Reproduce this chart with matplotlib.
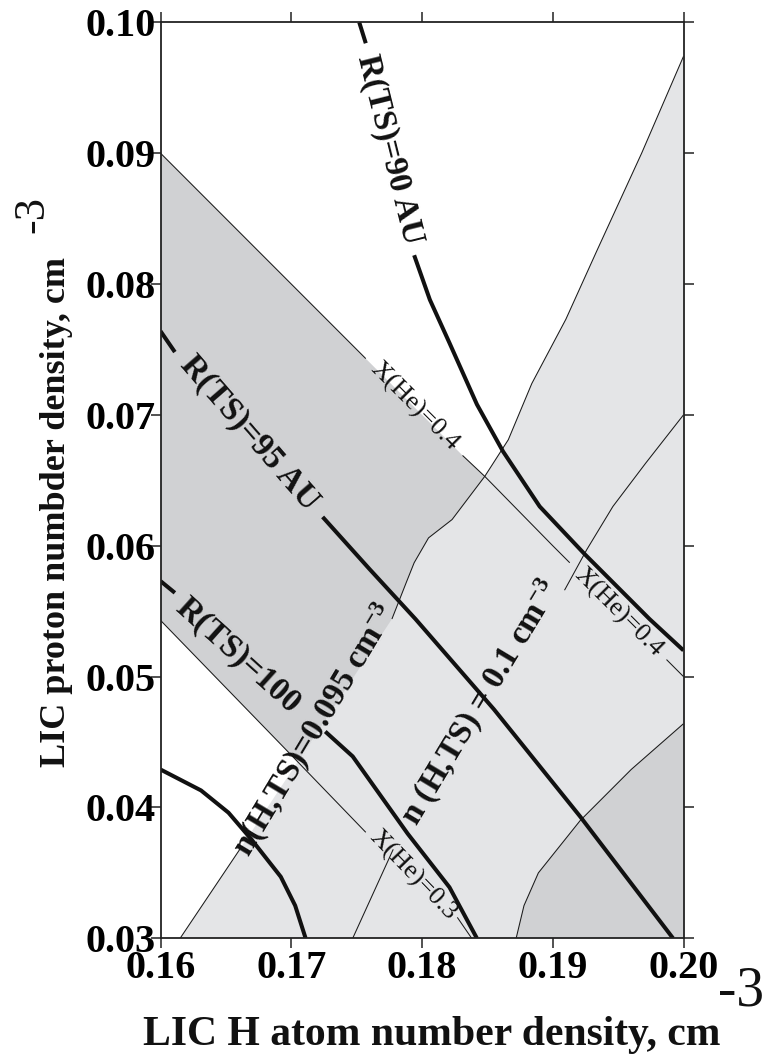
import numpy as np
import matplotlib
matplotlib.use("Agg")
import matplotlib.pyplot as plt
from matplotlib.patches import Polygon

plt.rcParams['font.family'] = ['Liberation Serif', 'DejaVu Serif']
plt.rcParams['mathtext.fontset'] = 'custom'
plt.rcParams['mathtext.rm'] = 'Liberation Serif:bold'
plt.rcParams['mathtext.bf'] = 'Liberation Serif:bold'
plt.rcParams['mathtext.it'] = 'Liberation Serif:bold:italic'

# ---------------- data ----------------
x_ticks = [0.16, 0.17, 0.18, 0.19, 0.20]
x_tick_labels = ['0.16', '0.17', '0.18', '0.19', '0.20']
y_ticks = [0.03, 0.04, 0.05, 0.06, 0.07, 0.08, 0.09, 0.10]
y_tick_labels = ['0.03', '0.04', '0.05', '0.06', '0.07', '0.08', '0.09', '0.10']

# X(He)=0.4 iso-line, split where its two labels sit
xhe04_x = [[0.1600, 0.1700, 0.1757], [0.1831, 0.1848, 0.1900, 0.1913], [0.1987, 0.2000]]
xhe04_y = [[0.0900, 0.0800, 0.0743], [0.0669, 0.0653, 0.0600, 0.0587], [0.0513, 0.0500]]

# X(He)=0.3 iso-line
xhe03_x = [[0.1600, 0.1700, 0.1757], [0.1827, 0.1838]]
xhe03_y = [[0.0543, 0.0440, 0.0381], [0.0316, 0.0300]]

# n(H,TS)=0.095 cm^-3 iso-line
n095_x = [[0.1615, 0.1662], [0.1777, 0.1788, 0.1794, 0.1805, 0.1823, 0.1848, 0.1866, 0.1884,
                             0.1910, 0.1934, 0.1968, 0.2000]]
n095_y = [[0.0300, 0.0370], [0.0544, 0.0572, 0.0587, 0.0606, 0.0620, 0.0653, 0.0681, 0.0724,
                             0.0773, 0.0826, 0.0900, 0.0974]]

# n(H,TS)=0.1 cm^-3 iso-line
n01_x = [[0.1747, 0.1778], [0.1909, 0.1926, 0.1946, 0.1971, 0.2000]]
n01_y = [[0.0300, 0.0368], [0.0566, 0.0597, 0.0630, 0.0663, 0.0700]]

# boundary of the darker region at lower right
dark_x = [0.1872, 0.1878, 0.1889, 0.1921, 0.1960, 0.2000]
dark_y = [0.0300, 0.0325, 0.0350, 0.0390, 0.0429, 0.0464]

# termination-shock distance contours (thick)
r90_x = [[0.1752, 0.1757], [0.1794, 0.1806, 0.1821, 0.1842, 0.1862, 0.1890, 0.1924, 0.1974, 0.2000]]
r90_y = [[0.1000, 0.0984], [0.0822, 0.0788, 0.0755, 0.0708, 0.0672, 0.0630, 0.0594, 0.0544, 0.0520]]
r95_x = [[0.1600, 0.1611], [0.1724, 0.1760, 0.1795, 0.1855, 0.1921, 0.1992]]
r95_y = [[0.0764, 0.0748], [0.0622, 0.0582, 0.0544, 0.0475, 0.0393, 0.0300]]
r100_x = [[0.1600, 0.1611], [0.1726, 0.1747, 0.1789, 0.1821, 0.1842]]
r100_y = [[0.0573, 0.0564], [0.0458, 0.0439, 0.0380, 0.0339, 0.0300]]
r105_x = [[0.1600, 0.1631, 0.1652, 0.1670, 0.1692, 0.1703, 0.1711]]
r105_y = [[0.0429, 0.0413, 0.0396, 0.0375, 0.0347, 0.0325, 0.0300]]

# labels: text, x, y, angle
labels_bold = [
    ("R(TS)=90 AU", 0.1775, 0.0903, -76),
    ("R(TS)=95 AU", 0.1668, 0.0686, -49),
    ("R(TS)=100", 0.1659, 0.0516, -42),
    ("n(H,TS)=0.095 cm$^{-3}$", 0.1718, 0.0459, 59),
    ("n (H,TS) = 0.1 cm$^{-3}$", 0.1845, 0.0480, 59),
]
labels_thin = [
    ("X(He)=0.4", 0.1794, 0.0706, -45),
    ("X(He)=0.4", 0.1950, 0.0549, -45),
    ("X(He)=0.3", 0.1793, 0.0348, -46),
]

# ---------------- figure ----------------
W, H = 764, 1061
fig = plt.figure(figsize=(W / 100, H / 100), dpi=100)
ax = fig.add_axes([160.5 / W, 1 - 938.3 / H, 523 / W, 916 / H])
ax.set_xlim(0.16, 0.20)
ax.set_ylim(0.03, 0.10)

DARK = '#d0d1d3'
LIGHT = '#e4e5e7'


def cat(parts):
    out = []
    for p in parts:
        out.extend(p)
    return out


xmin, xmax = ax.get_xlim()
ymin, ymax = ax.get_ylim()

# dark band between X(He)=0.3 and X(He)=0.4
x04, y04 = cat(xhe04_x), cat(xhe04_y)
x03, y03 = cat(xhe03_x), cat(xhe03_y)
band = list(zip(x04, y04)) + [(xmax, ymin)] + list(zip(x03[::-1], y03[::-1]))
ax.add_patch(Polygon(band, closed=True, facecolor=DARK, edgecolor='none', zorder=1))

# light region: n(H,TS) > 0.095
xn, yn = cat(n095_x), cat(n095_y)
light = list(zip(xn, yn)) + [(xmax, ymin)]
ax.add_patch(Polygon(light, closed=True, facecolor=LIGHT, edgecolor='none', zorder=2))

# dark region at lower right
dreg = list(zip(dark_x, dark_y)) + [(xmax, ymin)]
ax.add_patch(Polygon(dreg, closed=True, facecolor=DARK, edgecolor='none', zorder=3))

thin_kw = dict(color='#1a1a1a', lw=0.75, zorder=4, solid_capstyle='butt')
for xs_, ys_ in [(xhe04_x, xhe04_y), (xhe03_x, xhe03_y), (n095_x, n095_y), (n01_x, n01_y)]:
    for xs, ys in zip(xs_, ys_):
        ax.plot(xs, ys, **thin_kw)
ax.plot(dark_x, dark_y, **thin_kw)

thick_kw = dict(color='#111111', lw=2.9, zorder=5, solid_capstyle='butt', solid_joinstyle='round')
for xs_, ys_ in [(r90_x, r90_y), (r95_x, r95_y), (r100_x, r100_y), (r105_x, r105_y)]:
    for xs, ys in zip(xs_, ys_):
        ax.plot(xs, ys, **thick_kw)

for t, x, y, rot in labels_bold:
    ax.text(x, y, t, rotation=rot, rotation_mode='anchor', ha='center', va='center',
            fontsize=24, fontweight='bold', color='#111111', zorder=6)
for t, x, y, rot in labels_thin:
    ax.text(x, y, t, rotation=rot, rotation_mode='anchor', ha='center', va='center',
            fontsize=19, color='#111111', zorder=6)

ax.set_xticks(x_ticks)
ax.set_xticklabels(x_tick_labels)
ax.set_yticks(y_ticks)
ax.set_yticklabels(y_tick_labels)
for lab in ax.get_xticklabels() + ax.get_yticklabels():
    lab.set_fontsize(29)
    lab.set_fontweight('bold')
ax.tick_params(direction='out', length=7.2, width=1.1, top=True, right=True,
               labeltop=False, labelright=False, color='#222222')
ax.tick_params(axis='y', pad=-3.5)
ax.tick_params(axis='x', pad=1)
for s in ax.spines.values():
    s.set_linewidth(1.3)
    s.set_color('#222222')
    s.set_zorder(7)

# axis titles
fig.text(143 / W, 1 - 1045 / H, "LIC H atom number density, cm", ha='left', va='baseline',
         fontsize=30, fontweight='bold', color='#111111')
fig.text(718 / W, 1 - 1005 / H, "-3", ha='left', va='baseline', fontsize=40, color='#111111')
fig.text(65 / W, 1 - 767 / H, "LIC proton numbder density, cm", rotation=90, rotation_mode='anchor',
         ha='left', va='baseline', fontsize=26, fontweight='bold', color='#111111')
fig.text(43 / W, 1 - 233 / H, "-3", rotation=90, rotation_mode='anchor',
         ha='left', va='baseline', fontsize=32, color='#111111')

fig.savefig("out.png", dpi=100)
